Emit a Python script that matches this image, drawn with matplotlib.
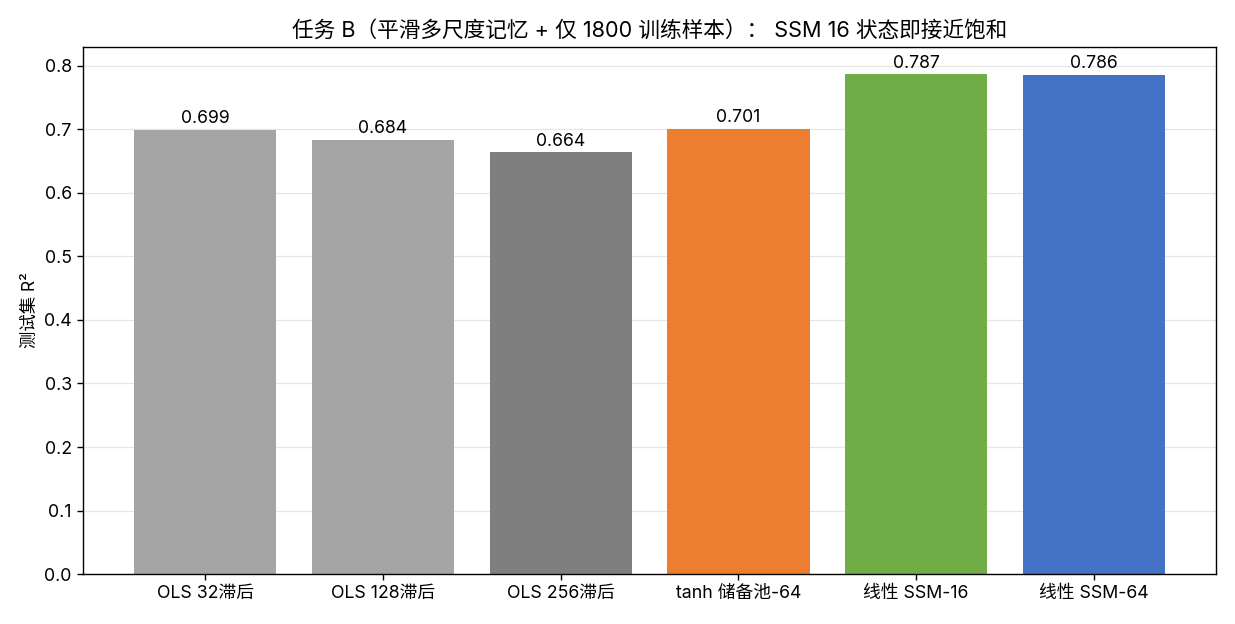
import matplotlib
matplotlib.use("Agg")
import matplotlib.pyplot as plt

plt.rcParams['font.family'] = ['Inter', 'Noto Sans CJK SC', 'DejaVu Sans']
plt.rcParams['axes.unicode_minus'] = False

categories = ["OLS 32滞后", "OLS 128滞后", "OLS 256滞后", "tanh 储备池-64", "线性 SSM-16", "线性 SSM-64"]
values = [0.699, 0.684, 0.664, 0.701, 0.787, 0.786]
colors = ["#a5a5a5", "#a5a5a5", "#7f7f7f", "#ed7d31", "#70ad47", "#4472c4"]

fig = plt.figure(figsize=(12.35, 6.24), dpi=100)
ax = fig.add_axes([0.067, 0.080, 0.918, 0.845])
x = list(range(len(categories)))
bars = ax.bar(x, values, width=0.8, color=colors, zorder=2)
for xi, v in zip(x, values):
    ax.text(xi, v + 0.004, f"{v:.3f}", ha="center", va="bottom", fontsize=12.7)
ax.set_xticks(x)
ax.set_xticklabels(categories, fontsize=12.8)
ax.set_ylim(0, 0.83)
ax.set_yticks([0, 0.1, 0.2, 0.3, 0.4, 0.5, 0.6, 0.7, 0.8])
ax.tick_params(axis='both', labelsize=12.8, length=4.5, width=1)
for s in ax.spines.values():
    s.set_linewidth(1)
ax.set_ylabel("测试集 R²", fontsize=12.5)
ax.set_title("任务 B（平滑多尺度记忆 + 仅 1800 训练样本）： SSM 16 状态即接近饱和", fontsize=15.6, pad=7)
ax.yaxis.grid(True, color="#e6e6e6", linewidth=0.9, zorder=0)
ax.set_axisbelow(True)
fig.savefig("out.png", dpi=100)
